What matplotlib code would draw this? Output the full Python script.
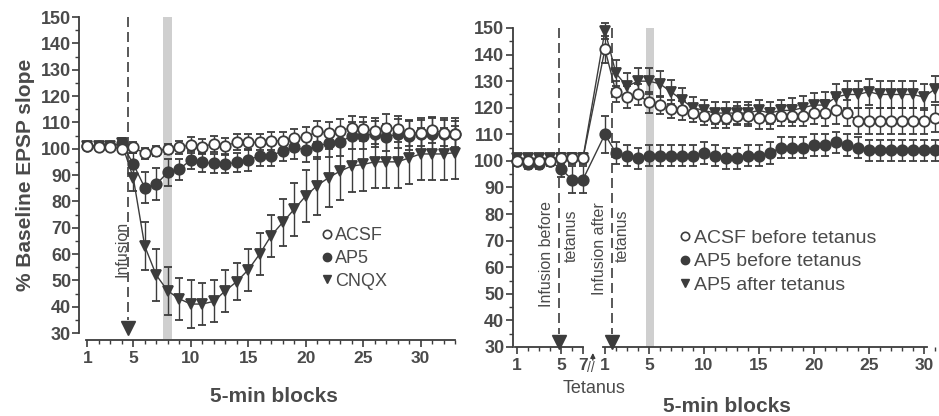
import numpy as np
import matplotlib
matplotlib.use("Agg")
import matplotlib.pyplot as plt
import matplotlib.transforms as mtransforms
from matplotlib.lines import Line2D

plt.rcParams['font.family'] = ['Liberation Sans', 'DejaVu Sans']

# ---------------- left panel data (blocks 1..33) ----------------
blocks_L = list(range(1, 34))
acsf_L = [101, 100.5, 100.5, 100,
          100.5, 98.2, 99.2, 99.9, 100.5, 101.5, 100.8, 101.8, 101.1, 102.4,
          102.4, 102.4, 103, 103, 104, 104.4, 106.6, 106, 106.9, 107.9,
          107.5, 106.6, 108, 107.5, 106, 106, 107, 106, 105.6]
acsf_L_err = [1.5, 1.5, 1.5, 1.5,
              2, 2, 2, 2, 2.5, 3, 3, 3, 3, 3, 3, 3, 3.5, 3.5, 3.5, 4, 4, 4,
              4.5, 4.5, 4.5, 5, 5, 5, 5, 5, 5, 5, 5]
ap5_L = [101, 101, 101, 102,
         94.2, 85.2, 86.5, 91, 92.2, 95.7, 94.8, 94.4, 94.2, 94.8, 95.7,
         97.3, 97.3, 99.2, 100.5, 99.5, 101.1, 102, 102.4, 105, 105, 105.6,
         104.3, 105.6, 105, 105.6, 105.6, 105.6, 105.6]
ap5_L_err = [1.5, 1.5, 1.5, 2,
             4, 6, 6, 5, 4, 3.5, 3.5, 3.5, 3.5, 3.5, 4, 4, 4, 4, 4.5, 4.5,
             5, 5, 5, 5, 5, 5, 5, 5.5, 5.5, 6, 6, 6, 6]
cnqx_L = [101, 101, 101, 102,
          89, 63, 52, 46, 43, 41, 41, 42, 46, 49.5, 54, 60, 67, 72, 77, 82,
          86, 89, 91.5, 93.4, 94, 95, 95, 95, 96.5, 98, 98, 98, 98.5]
cnqx_L_err = [1, 1, 1, 1.5,
              5, 9, 10, 9, 8, 9, 8, 8, 8, 7, 8, 8, 8, 9, 10, 10, 11, 11, 11,
              10, 10, 10, 10, 10, 10, 10, 10, 10, 10]

# ---------------- right panel data (7 pre + 31 post blocks) ----------------
pre_blocks = list(range(1, 8))
post_blocks = list(range(1, 32))
acsf_R = [100, 100, 100, 100, 101, 101, 101,
          142, 126, 124, 125, 122, 121, 119.5, 119, 118, 117, 116, 116, 117,
          117, 116, 116, 117, 117, 117, 118, 118, 119, 118, 115, 115, 115,
          115, 115, 115, 115, 116]
acsf_R_err = [1.5, 1.5, 1.5, 1.5, 2, 2, 2,
              5, 4, 4, 4, 4, 3.5, 3.5, 3.5, 3.5, 3.5, 3.5, 3.5, 3.5, 4, 4, 4,
              4, 4, 4, 4, 5, 5, 5, 5, 5, 5, 5, 5, 5, 5, 5]
ap5b_R = [100, 99, 99, 100, 97, 93, 93,
          110, 103, 102, 101, 102, 102, 102, 102, 102, 103, 102, 101, 101,
          102, 102, 103, 105, 105, 105, 106, 106, 107, 106, 105, 104, 104,
          104, 104, 104, 104, 104]
ap5b_R_err = [2, 2, 2, 2, 3, 5, 5,
              7, 4, 4, 4, 4, 4, 4, 4, 4, 4, 4, 4, 4, 4, 4, 4, 4, 4, 4, 4, 4,
              4, 4, 4, 4, 4, 4, 4, 4, 4, 4]
ap5a_R = [101, 101, 101, 101, 101, 101, 101,
          149, 133, 128, 130, 130, 129, 126, 123, 120, 119, 118, 118, 118,
          118, 119, 118, 119, 119, 120, 121, 121, 124, 125, 125, 126, 125,
          125, 125, 125, 124, 127]
ap5a_R_err = [1.5, 1.5, 1.5, 1.5, 1.5, 1.5, 1.5,
              3, 5, 5, 5, 5, 5, 4.5, 4.5, 4, 4, 4, 4, 4, 4, 4, 4, 4, 4.5, 4.5,
              4.5, 5, 5, 5, 5, 5, 5, 5, 5, 5, 5, 5]

yticks = list(range(30, 151, 10))
xt_L = [1, 5, 10, 15, 20, 25, 30]
xt_pre = [1, 5, 7]
xt_post = [1, 5, 10, 15, 20, 25, 30]

dark = '#3c3c3c'
txt = '#4a4a4a'
gray_bar = '#cfcfcf'

fig = plt.figure(figsize=(9.39, 4.16), dpi=100)
axL = fig.add_axes([0.0905, 0.1995, 0.4015, 0.7596])
axR = fig.add_axes([0.5482, 0.1659, 0.4526, 0.7668])


def series(ax, x, y, e, marker, face, z):
    ax.errorbar(x, y, yerr=e, fmt='-', marker=marker, color=dark, mfc=face,
                mec=dark, ms=7.5, mew=1.3, lw=1.0, elinewidth=1.0, capsize=3,
                capthick=1.0, ecolor=dark, zorder=z, clip_on=False)


def style(ax):
    for s in ['top', 'right']:
        ax.spines[s].set_visible(False)
    ax.spines['left'].set_color(dark)
    ax.spines['bottom'].set_color(dark)
    ax.spines['left'].set_linewidth(1.3)
    ax.spines['bottom'].set_linewidth(1.3)
    ax.set_ylim(30, 150)
    ax.set_yticks(yticks)
    ax.set_yticks(np.arange(35, 150, 10), minor=True)
    ax.tick_params(axis='both', which='major', colors=dark, labelcolor=txt,
                   length=5, width=1.2)
    ax.tick_params(axis='both', which='minor', colors=dark, length=3, width=1.0)
    ax.tick_params(axis='y', labelsize=13, pad=1)
    ax.tick_params(axis='x', labelsize=12.5, pad=3)


def legend(ax, labels, anchor, size):
    handles = [Line2D([], [], ls='none', marker='o', mfc='white', mec=dark,
                      mew=1.2, ms=6),
               Line2D([], [], ls='none', marker='o', mfc=dark, mec=dark, ms=6),
               Line2D([], [], ls='none', marker='v', mfc=dark, mec=dark, ms=6)]
    leg = ax.legend(handles, labels, loc='upper left', bbox_to_anchor=anchor,
                    frameon=False, fontsize=size, handlelength=0.5,
                    handletextpad=0.2, labelspacing=0.32, borderaxespad=0,
                    borderpad=0)
    for t in leg.get_texts():
        t.set_color(txt)


# ---------------- left panel ----------------
style(axL)
axL.set_xlim(0.8, 33.6)
axL.spines['left'].set_position(('outward', 4))
axL.spines['bottom'].set_position(('outward', 5))
axL.spines['bottom'].set_bounds(0.85, 33.0)
axL.set_xticks(xt_L)
axL.set_xticks(blocks_L, minor=True)
for lab in axL.get_xticklabels() + axL.get_yticklabels():
    lab.set_fontweight('bold')

axL.axvspan(7.6, 8.35, ymin=-0.02, ymax=1.0, color=gray_bar, lw=0,
            zorder=0, clip_on=False)
axL.plot([4.5, 4.5], [150, 35], ls=(0, (6, 3)), color=dark, lw=1.2, zorder=1)
axL.plot([4.5], [32], marker='v', ms=10, color=dark, zorder=2, clip_on=False)
axL.text(4.05, 62, 'Infusion', rotation=90, ha='center', va='center',
         fontsize=11.5, color=txt)

series(axL, blocks_L, cnqx_L, cnqx_L_err, 'v', dark, 3)
series(axL, blocks_L, ap5_L, ap5_L_err, 'o', dark, 4)
series(axL, blocks_L, acsf_L, acsf_L_err, 'o', 'white', 5)

legend(axL, ['ACSF', 'AP5', 'CNQX'], (0.63, 0.335), 13)

axL.set_xlabel('5-min blocks', fontsize=15, fontweight='bold', color=txt,
               labelpad=15)
axL.set_ylabel('% Baseline EPSP slope', fontsize=15, fontweight='bold',
               color=txt, labelpad=4)

# ---------------- right panel ----------------
style(axR)
axR.set_xlim(0.8, 39.45)
axR.spines['left'].set_position(('outward', 1.5))
axR.spines['bottom'].set_visible(False)

xpre = [b for b in pre_blocks]
xpost = [b + 8 for b in post_blocks]
xR = xpre + xpost
axR.set_xticks([b for b in xt_pre] + [b + 8 for b in xt_post])
axR.set_xticklabels([str(b) for b in xt_pre] + [str(b) for b in xt_post])
axR.set_xticks(xR, minor=True)
for lab in axR.get_xticklabels() + axR.get_yticklabels():
    lab.set_fontweight('bold')

trans = mtransforms.blended_transform_factory(axR.transData, axR.transAxes)
axR.plot([0.85, 7.0], [0, 0], color=dark, lw=1.3, transform=trans,
         clip_on=False)
axR.plot([8.8, 38.3], [0, 0], color=dark, lw=1.3, transform=trans,
         clip_on=False)
axR.text(7.75, -0.065, '//', transform=trans, ha='center', va='center',
         fontsize=10, color=txt)
axR.annotate('', xy=(7.9, -0.01), xytext=(7.9, -0.05), xycoords=trans,
             textcoords=trans,
             arrowprops=dict(arrowstyle='-|>', color=dark, lw=1.0,
                             mutation_scale=7))
axR.text(8.0, -0.13, 'Tetanus', transform=trans, ha='center', va='center',
         fontsize=13, color=txt)

axR.axvspan(12.75, 13.5, ymin=0, ymax=1.0, color=gray_bar, lw=0, zorder=0)
for xd in [4.8, 9.6]:
    axR.plot([xd, xd], [150, 35], ls=(0, (6, 3)), color=dark, lw=1.2,
             zorder=1)
    axR.plot([xd], [32], marker='v', ms=10, color=dark, zorder=2,
             clip_on=False)
axR.text(3.65, 65, 'Infusion before', rotation=90, ha='center',
         va='center', fontsize=11.5, color=txt)
axR.text(5.9, 72, 'tetanus', rotation=90, ha='center', va='center',
         fontsize=11.5, color=txt)
axR.text(8.55, 67, 'Infusion after', rotation=90, ha='center', va='center',
         fontsize=11.5, color=txt)
axR.text(10.6, 72, 'tetanus', rotation=90, ha='center', va='center',
         fontsize=11.5, color=txt)

series(axR, xR, ap5a_R, ap5a_R_err, 'v', dark, 3)
series(axR, xR, ap5b_R, ap5b_R_err, 'o', dark, 4)
series(axR, xR, acsf_R, acsf_R_err, 'o', 'white', 5)

legend(axR, ['ACSF before tetanus', 'AP5 before tetanus', 'AP5 after tetanus'],
       (0.39, 0.37), 14)

axR.set_xlabel('5-min blocks', fontsize=15, fontweight='bold', color=txt,
               labelpad=17)

fig.savefig('out.png', dpi=100)
